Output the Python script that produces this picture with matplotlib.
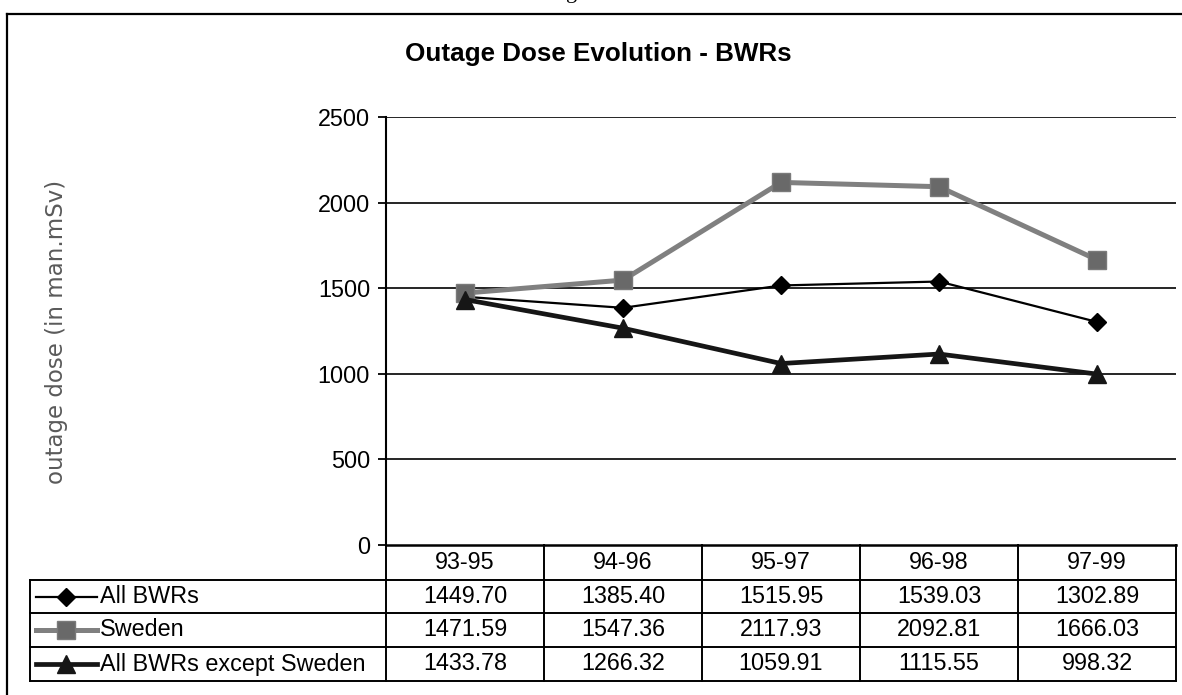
import matplotlib
matplotlib.use("Agg")
import matplotlib.pyplot as plt
from matplotlib.lines import Line2D
from matplotlib.transforms import blended_transform_factory

# ---------------- data ----------------
categories = ["93-95", "94-96", "95-97", "96-98", "97-99"]
all_bwrs = [1449.70, 1385.40, 1515.95, 1539.03, 1302.89]
sweden = [1471.59, 1547.36, 2117.93, 2092.81, 1666.03]
all_except_sweden = [1433.78, 1266.32, 1059.91, 1115.55, 998.32]
series_names = ["All BWRs", "Sweden", "All BWRs except Sweden"]
y_ticks = [0, 500, 1000, 1500, 2000, 2500]
title = "Outage Dose Evolution - BWRs"
y_label = "outage dose (in man.mSv)"

# ---------------- style ----------------
W, H = 1182, 695
FONT = "Liberation Sans"
plt.rcParams["font.family"] = [FONT, "DejaVu Sans"]

styles = [
    dict(color="black", lw=1.6, marker="D", ms=9.0, mfc="black", mec="black"),
    dict(color="#808080", lw=3.6, marker="s", ms=13.0, mfc="#696969", mec="#7a7a7a"),
    dict(color="#161616", lw=3.4, marker="^", ms=13.5, mfc="#161616", mec="#161616"),
]
series = [all_bwrs, sweden, all_except_sweden]

fig = plt.figure(figsize=(W / 100, H / 100), dpi=100)


def fx(x):
    return x / W


def fy(y):
    return 1 - y / H


# plot area
ax_l, ax_r, ax_t, ax_b = 386, 1176, 117, 545
ax = fig.add_axes([fx(ax_l), fy(ax_b), (ax_r - ax_l) / W, (ax_b - ax_t) / H])
xs = list(range(len(categories)))
ax.set_xlim(-0.5, len(categories) - 0.5)
ax.set_ylim(y_ticks[0], y_ticks[-1])
ax.set_yticks(y_ticks)
ax.set_yticklabels([str(t) for t in y_ticks], fontsize=16.8, family=FONT)
ax.set_xticks([])
for yt in y_ticks[1:]:
    ax.axhline(yt, color="black", lw=1.2, zorder=1)
for s in ["top", "right", "bottom"]:
    ax.spines[s].set_visible(False)
ax.spines["left"].set_linewidth(1.5)
ax.tick_params(axis="y", length=6, width=1.3, pad=5.5, direction="out")

for vals, st, name in zip(series, styles, series_names):
    ax.plot(xs, vals, label=name, zorder=3, clip_on=False, **st)

# title & y label
fig.text(fx(598), fy(54), title, ha="center", va="center",
         fontsize=18.7, fontweight="bold", family=FONT)
fig.text(fx(57), fy(332), y_label, ha="center", va="center", rotation=90,
         fontsize=16.5, color="#5a5a5a", family="DejaVu Sans")

# cut-off caption fragment at top
fig.text(fx(572), fy(-2), "g", ha="center", va="baseline",
         fontsize=16, family="Liberation Serif")

# outer border
fig.add_artist(Line2D([fx(7), fx(1182)], [fy(14), fy(14)], color="black", lw=1.6))
fig.add_artist(Line2D([fx(7), fx(7)], [fy(14), fy(695)], color="black", lw=1.6))

# ---------------- data table ----------------
tr = blended_transform_factory(ax.transData, fig.transFigure)
row_y = [545, 580, 613, 647, 681]
leg_l = 30
tlw = 1.4
ncat = len(categories)

# horizontal lines
fig.add_artist(Line2D([fx(ax_l), fx(ax_r)], [fy(row_y[0])] * 2, color="black", lw=1.8))
for y in row_y[1:]:
    fig.add_artist(Line2D([fx(leg_l), fx(ax_r)], [fy(y)] * 2, color="black", lw=tlw))
# vertical lines
for i in range(ncat + 1):
    xb = i - 0.5
    ax.add_artist(Line2D([xb, xb], [fy(row_y[0]), fy(row_y[-1])], color="black",
                         lw=tlw, transform=tr, clip_on=False))
fig.add_artist(Line2D([fx(leg_l), fx(leg_l)], [fy(row_y[1]), fy(row_y[-1])],
                      color="black", lw=tlw))

# header
hy = (row_y[0] + row_y[1]) / 2
for i, c in enumerate(categories):
    ax.text(i, fy(hy), c, transform=tr, ha="center", va="center",
            fontsize=16.8, family=FONT)

# rows
for r, (vals, st, name) in enumerate(zip(series, styles, series_names)):
    cy = (row_y[r + 1] + row_y[r + 2]) / 2
    for i, v in enumerate(vals):
        ax.text(i, fy(cy), f"{v:.2f}", transform=tr, ha="center", va="center",
                fontsize=16.8, family=FONT)
    # legend key
    fig.add_artist(Line2D([fx(36), fx(97)], [fy(cy)] * 2, color=st["color"], lw=st["lw"]))
    fig.add_artist(Line2D([fx(66)], [fy(cy)], marker=st["marker"], ms=st["ms"],
                          mfc=st["mfc"], mec=st["mec"], lw=0))
    fig.text(fx(100), fy(cy), name, ha="left", va="center", fontsize=16.8, family=FONT)

fig.savefig("out.png", dpi=100)
